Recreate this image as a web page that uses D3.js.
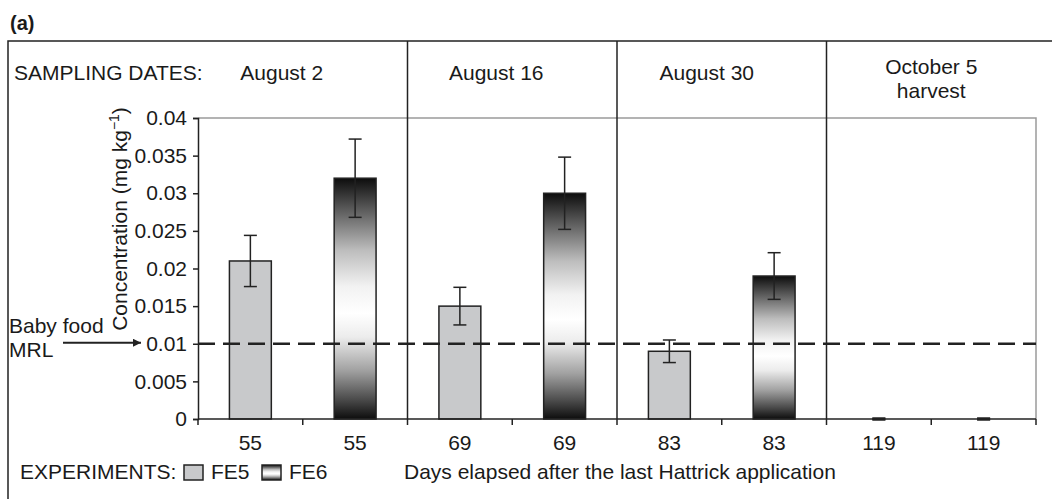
<!DOCTYPE html>
<html>
<head>
<meta charset="utf-8">
<script src="https://cdn.jsdelivr.net/npm/d3@7"></script>
<style>
  html, body { margin: 0; padding: 0; background: #fff; }
  svg { display: block; }
  text { font-family: "Liberation Sans", Arial, Helvetica, sans-serif; fill: #1a1a1a; }
</style>
</head>
<body>
<svg id="chart" width="1052" height="499"></svg>
<script>
// Sampling dates and days elapsed after the last Hattrick application
const samplingDates = ["August 2", "August 16", "August 30", "October 5|harvest"];
const daysElapsed = [55, 69, 83, 119];
const experiments = ["FE5", "FE6"];

// Mean residue concentration (mg/kg) and its error, per sampling date
const fe5Values = [0.021, 0.015, 0.009, 0];
const fe6Values = [0.032, 0.030, 0.019, 0];
const fe5Errors = [0.0034, 0.0025, 0.0015, 0];
const fe6Errors = [0.0052, 0.0048, 0.0031, 0];

const yTicks = [0, 0.005, 0.01, 0.015, 0.02, 0.025, 0.03, 0.035, 0.04];
const babyFoodMRL = 0.01;

// Flatten into one bar per (date, experiment)
const bars = [];
daysElapsed.forEach((d, i) => {
  bars.push({ idx: bars.length, day: d, exp: "FE5", value: fe5Values[i], err: fe5Errors[i] });
  bars.push({ idx: bars.length, day: d, exp: "FE6", value: fe6Values[i], err: fe6Errors[i] });
});

const svg = d3.select("#chart");
const ink = "#222";
const fontSize = 21;

const plot = { left: 198, right: 1036, top: 118, bottom: 419 };

const x = d3.scaleBand().domain(d3.range(bars.length)).range([plot.left, plot.right]).padding(0);
const xGroup = d3.scaleBand().domain(samplingDates).range([plot.left, plot.right]).padding(0);
const y = d3.scaleLinear().domain([0, 0.04]).range([plot.bottom, plot.top]);

// Gradient fill for FE6 bars: dark at both ends, white near the middle
const defs = svg.append("defs");
const grad = defs.append("linearGradient")
  .attr("id", "fe6Fill").attr("x1", 0).attr("y1", 0).attr("x2", 0).attr("y2", 1);
[[0, "#0d0d0d"], [0.12, "#555"], [0.3, "#bdbdbd"], [0.45, "#f2f2f2"], [0.56, "#ffffff"],
 [0.66, "#ececec"], [0.8, "#a0a0a0"], [0.92, "#4a4a4a"], [1, "#0d0d0d"]]
  .forEach(([o, c]) => grad.append("stop").attr("offset", o).attr("stop-color", c));
const fillFor = exp => exp === "FE5" ? "#c8c9cb" : "url(#fe6Fill)";

// Panel label
svg.append("text").attr("x", 10).attr("y", 30)
  .style("font-weight", "bold").style("font-size", "20px").text("(a)");

// Outer frame (runs past the right and bottom edges)
svg.append("rect").attr("x", 8).attr("y", 41).attr("width", 1100).attr("height", 500)
  .attr("fill", "none").attr("stroke", ink).attr("stroke-width", 1.5);

// Plot area frame (top and right in light gray)
svg.append("path")
  .attr("d", `M${plot.left},${plot.top}H${plot.right}V${plot.bottom}`)
  .attr("fill", "none").attr("stroke", "#9a9a9a").attr("stroke-width", 1.5);

// Bars
svg.append("g").selectAll("rect").data(bars).join("rect")
  .attr("x", d => x(d.idx) + x.bandwidth() * 0.3)
  .attr("width", x.bandwidth() * 0.4)
  .attr("y", d => y(d.value))
  .attr("height", d => y(0) - y(d.value))
  .attr("fill", d => fillFor(d.exp))
  .attr("stroke", ink).attr("stroke-width", 1.5);

// MRL dashed line
svg.append("line")
  .attr("x1", plot.left).attr("x2", plot.right)
  .attr("y1", y(babyFoodMRL)).attr("y2", y(babyFoodMRL))
  .attr("stroke", ink).attr("stroke-width", 2.5).attr("stroke-dasharray", "17,8");

// Separators between sampling dates
svg.append("g").selectAll("line").data(samplingDates.slice(1)).join("line")
  .attr("x1", d => xGroup(d)).attr("x2", d => xGroup(d))
  .attr("y1", 41).attr("y2", plot.bottom)
  .attr("stroke", ink).attr("stroke-width", 1.5);

// Error bars
const eb = svg.append("g").attr("stroke", ink).attr("stroke-width", 1.5);
bars.forEach(d => {
  const cx = x(d.idx) + x.bandwidth() / 2;
  const cap = 6.5;
  eb.append("line").attr("x1", cx).attr("x2", cx)
    .attr("y1", y(d.value + d.err)).attr("y2", y(d.value - d.err));
  [d.value + d.err, d.value - d.err].forEach(v => {
    eb.append("line").attr("x1", cx - cap).attr("x2", cx + cap)
      .attr("y1", y(v)).attr("y2", y(v))
      .attr("stroke-width", d.err === 0 ? 3 : 1.5);
  });
});

// Y axis
const yAxis = svg.append("g").attr("transform", `translate(${plot.left},0)`)
  .call(d3.axisLeft(y).tickValues(yTicks).tickSize(5).tickPadding(6).tickFormat(d => String(+d.toFixed(3))));
yAxis.select(".domain").attr("stroke", ink).attr("stroke-width", 1.5);
yAxis.selectAll(".tick line").attr("stroke", ink).attr("stroke-width", 1.5);
yAxis.selectAll(".tick text").style("font-size", fontSize + "px")
  .attr("fill", "#1a1a1a").style("font-family", "'Liberation Sans', Arial, sans-serif");

// X axis: boundary ticks between bars, day labels centred under bars
const xAxis = svg.append("g").attr("transform", `translate(0,${plot.bottom})`);
xAxis.append("line").attr("x1", plot.left).attr("x2", plot.right)
  .attr("stroke", ink).attr("stroke-width", 1.5);
const bounds = d3.range(bars.length + 1).map(i => i < bars.length ? x(i) : plot.right);
xAxis.selectAll(".bt").data(bounds).join("line").attr("class", "bt")
  .attr("x1", d => d).attr("x2", d => d).attr("y1", 0).attr("y2", 6)
  .attr("stroke", ink).attr("stroke-width", 1.5);
xAxis.selectAll(".dl").data(bars).join("text").attr("class", "dl")
  .attr("x", d => x(d.idx) + x.bandwidth() / 2).attr("y", 31)
  .attr("text-anchor", "middle").style("font-size", fontSize + "px")
  .text(d => d.day);

// Y axis title
const yt = svg.append("text")
  .attr("transform", "translate(127,219) rotate(-90)")
  .attr("text-anchor", "middle").style("font-size", fontSize + "px");
yt.append("tspan").text("Concentration (mg kg");
yt.append("tspan").attr("dy", -8).style("font-size", "14px").text("\u22121");
yt.append("tspan").attr("dy", 8).text(")");

// Baby food MRL annotation with arrow
defs.append("marker").attr("id", "arrowHead")
  .attr("viewBox", "0 0 10 10").attr("refX", 10).attr("refY", 5)
  .attr("markerWidth", 10).attr("markerHeight", 8).attr("markerUnits", "userSpaceOnUse")
  .attr("orient", "auto")
  .append("path").attr("d", "M0,0L10,5L0,10Z").attr("fill", ink);
svg.append("text").attr("x", 9).attr("y", 333).style("font-size", fontSize + "px").text("Baby food");
svg.append("text").attr("x", 9).attr("y", 357).style("font-size", fontSize + "px").text("MRL");
svg.append("line").attr("x1", 63).attr("x2", 141)
  .attr("y1", y(babyFoodMRL) - 1).attr("y2", y(babyFoodMRL) - 1)
  .attr("stroke", ink).attr("stroke-width", 2).attr("marker-end", "url(#arrowHead)");

// Sampling date header
svg.append("text").attr("x", 14).attr("y", 80).style("font-size", fontSize + "px").text("SAMPLING DATES:");
const headerNudge = [-21, -16, -15, 0];
samplingDates.forEach((s, i) => {
  const lines = s.split("|");
  const cx = xGroup(s) + xGroup.bandwidth() / 2 + headerNudge[i];
  const t = svg.append("text").attr("text-anchor", "middle").style("font-size", fontSize + "px");
  if (lines.length === 1) {
    t.attr("x", cx).attr("y", 80).text(lines[0]);
  } else {
    lines.forEach((l, j) => t.append("tspan").attr("x", cx).attr("y", 74 + j * 24).text(l));
  }
});

// Legend
svg.append("text").attr("x", 20).attr("y", 479).style("font-size", fontSize + "px").text("EXPERIMENTS:");
const legendX = [184, 262];
experiments.forEach((e, i) => {
  svg.append("rect").attr("x", legendX[i]).attr("y", 465).attr("width", 19).attr("height", 15)
    .attr("fill", fillFor(e)).attr("stroke", ink).attr("stroke-width", 1.5);
  svg.append("text").attr("x", legendX[i] + 27).attr("y", 479).style("font-size", fontSize + "px").text(e);
});

// X axis title
svg.append("text").attr("x", 404).attr("y", 479).style("font-size", fontSize + "px")
  .text("Days elapsed after the last Hattrick application");
</script>
</body>
</html>
